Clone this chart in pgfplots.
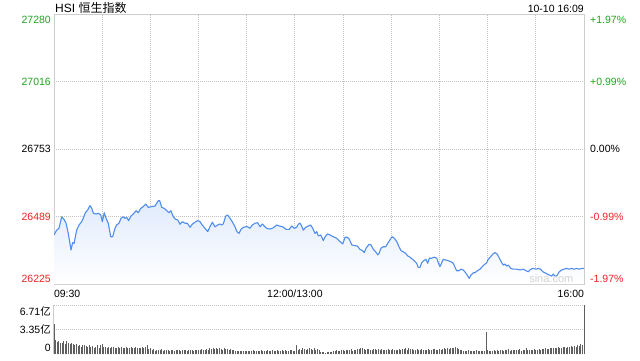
\documentclass[border=0pt]{standalone}
\usepackage{pgfplots}
\pgfplotsset{compat=1.18}
\usepackage{pgfplotstable}
\usepackage{fontspec}
\setmainfont{Liberation Sans}
\newfontfamily\cjk{Noto Sans CJK SC}
\definecolor{upg}{RGB}{30,165,30}
\definecolor{dnr}{RGB}{240,35,35}
\definecolor{linec}{RGB}{80,141,238}
\definecolor{framec}{RGB}{205,205,205}
\definecolor{gridc}{RGB}{195,195,195}
\definecolor{fillc}{RGB}{224,235,252}
\definecolor{volc}{RGB}{95,95,95}
\definecolor{wmc}{RGB}{212,212,212}

\pgfplotstableread{
m p
0 26417
1.7 26436
3.1 26443
4.8 26488
6.2 26478
7.5 26463
8.9 26423
10.6 26358
11.6 26387
12.5 26384
14.1 26436
15.6 26456
17.2 26469
18.2 26482
19.5 26504
21.0 26515
22.4 26532
23.5 26521
24.5 26502
26.2 26499
27.6 26502
29.1 26495
30.1 26469
31.3 26504
32.4 26482
33.8 26463
35.3 26410
36.5 26410
38.0 26443
39.0 26456
40.5 26463
41.7 26482
43.1 26488
44.2 26482
45.3 26486
46.5 26473
47.9 26491
49.4 26499
51.1 26512
52.5 26504
54.0 26521
55.6 26528
57.1 26538
58.7 26525
60.8 26528
62.9 26530
64.9 26551
65.8 26551
67.1 26525
68.7 26521
70.2 26512
71.6 26504
72.8 26512
74.3 26488
75.8 26478
77.0 26476
78.5 26459
79.9 26469
81.6 26463
83.0 26463
84.7 26447
86.1 26459
87.8 26467
89.5 26473
90.9 26469
92.3 26456
94.0 26443
95.7 26430
97.1 26449
98.6 26467
100.2 26449
101.9 26456
103.4 26460
104.4 26456
105.4 26460
106.9 26491
108.1 26495
109.6 26482
111.0 26469
112.7 26449
113.9 26430
115.2 26423
116.4 26439
117.9 26447
119.4 26449
120.6 26449
122.0 26443
123.5 26456
125.2 26463
126.8 26465
128.3 26449
129.7 26460
130.9 26452
132.4 26443
134.5 26440
136.5 26445
138.7 26456
140.3 26452
142.4 26449
144.5 26439
146.5 26439
148.0 26452
149.6 26443
151.1 26447
152.1 26459
153.2 26463
154.2 26452
155.2 26436
156.7 26447
158.3 26452
159.8 26456
161.1 26443
162.5 26423
163.6 26430
164.6 26413
166.1 26417
167.7 26395
168.7 26408
170.2 26421
171.8 26417
173.9 26410
176.0 26404
178.1 26391
179.8 26382
181.2 26408
182.6 26408
183.9 26400
185.4 26378
187.4 26375
188.8 26374
190.5 26361
192.2 26355
193.2 26348
194.3 26365
196.1 26380
197.4 26378
198.8 26361
200.3 26351
201.6 26339
202.4 26345
203.6 26365
205.0 26371
206.5 26371
208.1 26387
209.8 26404
210.6 26410
211.9 26404
213.4 26391
214.8 26371
216.1 26355
217.5 26351
219.0 26345
220.2 26335
221.7 26330
223.1 26322
224.3 26316
225.8 26306
226.8 26290
227.9 26290
228.9 26308
230.2 26316
231.6 26322
232.7 26306
233.7 26326
235.2 26326
236.8 26330
238.3 26326
239.3 26308
240.3 26293
241.4 26308
242.4 26322
243.9 26319
245.5 26316
247.2 26312
248.6 26306
249.7 26290
250.7 26277
252.2 26277
253.4 26283
254.8 26280
256.3 26269
257.6 26256
258.6 26247
259.6 26260
261.1 26269
262.1 26269
263.6 26277
265.2 26283
266.9 26295
268.4 26303
269.4 26308
270.4 26322
271.9 26332
273.2 26342
274.6 26348
276.0 26342
277.3 26326
278.8 26308
279.8 26299
280.8 26303
281.9 26295
282.9 26299
284.4 26286
286.0 26283
288.1 26283
290.1 26280
292.2 26283
293.9 26277
295.3 26273
296.8 26283
298.4 26286
300.1 26283
301.5 26286
303.0 26283
304.3 26273
305.7 26269
307.1 26264
308.4 26260
309.9 26256
310.9 26264
312.1 26254
313.4 26260
314.6 26273
316.1 26280
317.5 26283
319.2 26286
320.9 26283
322.3 26286
323.8 26283
325.4 26286
327.1 26283
328.6 26286
330.0 26286
}\price

\pgfplotsset{
  every tick label/.append style={font=\fontsize{10.5}{12}\selectfont, inner sep=0pt},
  /pgf/number format/assume math mode=true,
  scaled ticks=false,
}

\begin{document}
\begin{tikzpicture}
\useasboundingbox (0pt,0pt) rectangle (640pt,-360pt);
% price panel
\begin{axis}[
  at={(54pt,-284pt)}, anchor=south west, scale only axis,
  width=530pt, height=269.5pt,
  xmin=0, xmax=330, ymin=26225, ymax=27280,
  scaled y ticks=false, scaled x ticks=false,
  xtick={0,30,...,330},
  xticklabel pos=lower,
  xticklabels={{\raisebox{-12.7pt}[0pt][0pt]{\makebox[0pt][l]{09:30}}},,,,,{\raisebox{-12.7pt}[0pt][0pt]{\makebox[0pt][c]{12:00/13:00}}},,,,,,{\raisebox{-12.7pt}[0pt][0pt]{\makebox[0pt][r]{16:00}}}},
  ytick={26225,26489,26753,27016,27280},
  yticklabels={{\raisebox{2.0pt}[0pt][0pt]{\color{dnr}26225}},{\raisebox{-3.8pt}[0pt][0pt]{\color{dnr}26489}},{\raisebox{-3.8pt}[0pt][0pt]{26753}},{\raisebox{-3.8pt}[0pt][0pt]{\color{upg}27016}},{\raisebox{-9.3pt}[0pt][0pt]{\color{upg}27280}}},
  yticklabel style={xshift=-3pt},
  xmajorgrids, ymajorgrids,
  grid style={gridc, line width=0.9pt, dash pattern=on 1pt off 1pt},
  axis line style={framec, line width=1pt},
  major tick length=0pt,
]
\addplot[draw=none, top color=fillc, bottom color=white] table[x=m, y=p] {\price} -- (axis cs:330,26225) -- (axis cs:0,26225) -- cycle;
\addplot[linec, line width=1.1pt, line join=round] table[x=m, y=p] {\price};
\end{axis}
% percent labels on the right
\begin{axis}[
  at={(54pt,-284pt)}, anchor=south west, scale only axis,
  width=530pt, height=269.5pt,
  xmin=0, xmax=330, ymin=26225, ymax=27280,
  scaled y ticks=false, scaled x ticks=false,
  xtick=\empty,
  hide x axis, axis y line*=right, y axis line style={draw=none},
  ytick={26225,26489,26753,27016,27280},
  yticklabels={{\raisebox{2.0pt}[0pt][0pt]{\color{dnr}-1.97\%}},{\raisebox{-3.8pt}[0pt][0pt]{\color{dnr}-0.99\%}},{\raisebox{-3.8pt}[0pt][0pt]{0.00\%}},{\raisebox{-3.8pt}[0pt][0pt]{\color{upg}+0.99\%}},{\raisebox{-9.3pt}[0pt][0pt]{\color{upg}+1.97\%}}},
  yticklabel style={xshift=6pt},
  major tick length=0pt,
]
\end{axis}
% volume panel
\begin{axis}[
  at={(54pt,-354.3pt)}, anchor=south west, scale only axis,
  width=530pt, height=49.3pt,
  xmin=0, xmax=330, ymin=0, ymax=6.71,
  scaled y ticks=false, scaled x ticks=false,
  xtick=\empty,
  axis x line=none, axis y line*=left,
  y axis line style={framec, line width=1pt},
  ytick={3.35,6.71},
  yticklabels={{\raisebox{-3.6pt}[0pt][0pt]{3.35{\cjk 亿}}},{\raisebox{-10pt}[0pt][0pt]{6.71{\cjk 亿}}}},
  extra y ticks={0},
  extra y tick labels={{\raisebox{2.5pt}[0pt][0pt]{0}}},
  extra y tick style={grid=none},
  yticklabel style={xshift=-3pt},
  ymajorgrids,
  grid style={gridc, line width=0.9pt, dash pattern=on 1pt off 1pt},
  major tick length=0pt,
  clip=false,
]
\addplot[ycomb, volc, line width=0.9pt] coordinates {
(0,4.10)
(1,1.95)(2,1.70)(3,1.80)(4,1.60)(5,1.55)(6,1.75)(7,1.40)(8,1.85)(9,1.60)(10,1.35)
(11,1.50)(12,1.45)(13,1.20)(14,1.40)(15,1.10)(16,1.30)(17,1.05)(18,1.25)(19,1.30)(20,1.10)
(21,0.95)(22,1.20)(23,1.00)(24,1.10)(25,0.90)(26,1.05)(27,1.20)(28,0.85)(29,1.30)(30,1.40)
(31,1.00)(32,0.95)(33,0.90)(34,1.05)(35,0.85)(36,0.95)(37,1.00)(38,0.90)(39,0.80)(40,1.00)
(41,0.90)(42,0.95)(43,0.85)(44,0.90)(45,1.00)(46,0.85)(47,0.80)(48,0.95)(49,0.90)(50,0.85)
(51,0.95)(52,0.85)(53,0.90)(54,0.80)(55,0.95)(56,0.85)(57,1.00)(58,1.25)(59,0.75)(60,0.80)
(61,0.55)(62,0.70)(63,0.50)(64,0.65)(65,0.55)(66,0.60)(67,0.70)(68,0.50)(69,0.55)(70,0.65)
(71,0.60)(72,0.45)(73,0.55)(74,0.60)(75,0.50)(76,0.65)(77,0.55)(78,0.60)(79,0.50)(80,0.55)
(81,0.60)(82,0.55)(83,0.50)(84,0.65)(85,0.55)(86,0.60)(87,0.50)(88,0.55)(89,0.60)(90,0.65)
(91,0.55)(92,0.70)(93,0.60)(94,0.55)(95,0.75)(96,0.65)(97,0.80)(98,0.70)(99,0.85)(100,0.75)
(101,0.80)(102,0.70)(103,0.85)(104,0.75)(105,0.65)(106,0.80)(107,0.70)(108,0.75)(109,0.60)(110,0.70)
(111,0.65)(112,0.55)(113,0.45)(114,0.50)(115,0.40)(116,0.45)(117,0.50)(118,0.40)(119,0.45)(120,0.50)
(121,0.40)(122,0.45)(123,0.50)(124,0.55)(125,0.45)(126,0.40)(127,0.50)(128,0.45)(129,0.55)(130,0.50)
(131,0.45)(132,0.40)(133,0.55)(134,0.50)(135,0.45)(136,0.60)(137,0.50)(138,0.45)(139,0.55)(140,0.50)
(141,0.45)(142,0.60)(143,0.50)(144,0.55)(145,0.45)(146,0.50)(147,0.55)(148,0.60)(149,0.50)(150,0.45)
(151,1.27)
(152,0.60)(153,0.75)(154,0.65)(155,0.80)(156,0.70)(157,0.60)(158,0.75)(159,0.85)(160,0.70)
(161,0.65)(162,0.80)(163,0.60)(164,0.70)(165,0.55)(166,0.30)(167,0.25)(168,0.35)(169,0.20)(170,0.30)
(171,0.25)(172,0.35)(173,0.30)(174,0.40)(175,0.45)(176,0.55)(177,0.40)(178,0.50)(179,0.60)(180,0.55)
(181,0.50)(182,0.65)(183,0.55)(184,0.60)(185,0.70)(186,0.50)(187,0.65)(188,0.60)(189,0.75)(190,0.70)
(191,0.80)(192,0.90)(193,0.70)(194,0.65)(195,0.75)(196,0.70)(197,0.60)(198,0.65)(199,0.75)(200,0.70)
(201,0.65)(202,0.70)(203,0.60)(204,0.75)(205,0.65)(206,0.55)(207,0.60)(208,0.70)(209,0.65)(210,0.60)
(211,0.70)(212,0.65)(213,0.60)(214,0.55)(215,0.70)(216,0.65)(217,0.75)(218,0.70)(219,0.80)(220,0.65)
(221,0.90)(222,0.70)(223,0.75)(224,0.65)(225,0.60)(226,0.70)(227,0.65)(228,0.60)(229,0.70)(230,0.55)
(231,0.60)(232,0.65)(233,0.70)(234,0.60)(235,0.55)(236,0.70)(237,0.75)(238,0.60)(239,0.65)(240,0.70)
(241,0.60)(242,0.75)(243,0.80)(244,0.70)(245,0.85)(246,0.75)(247,0.80)(248,0.90)(249,0.85)(250,0.95)
(251,0.80)(252,0.70)(253,0.60)(254,0.55)(255,0.50)(256,0.45)(257,0.50)(258,0.55)(259,0.45)(260,0.50)
(261,0.45)(262,0.50)(263,0.55)(264,0.45)(265,0.50)(266,0.40)(267,0.45)(268,0.50)
(269,3.08)
(270,0.55)
(271,0.40)(272,0.50)(273,0.45)(274,0.55)(275,0.50)(276,0.60)(277,0.45)(278,0.55)(279,0.65)(280,0.50)
(281,0.60)(282,0.55)(283,0.70)(284,0.50)(285,0.60)(286,0.55)(287,0.65)(288,0.60)(289,0.55)(290,0.70)
(291,0.50)(292,0.60)(293,0.55)(294,0.85)(295,0.60)(296,0.55)(297,0.65)(298,0.60)(299,0.70)(300,0.65)
(301,0.60)(302,0.70)(303,0.65)(304,0.75)(305,0.70)(306,0.80)(307,0.75)(308,0.70)(309,0.85)(310,0.80)
(311,0.90)(312,0.85)(313,0.80)(314,0.95)(315,0.90)(316,0.85)(317,1.00)(318,0.95)(319,0.90)(320,1.05)
(321,1.00)(322,1.10)(323,0.95)(324,1.15)(325,1.05)(326,1.20)(327,1.10)(328,1.40)(329,1.25)
(330,6.71)
};
\end{axis}
% header texts
\node[anchor=base west, inner sep=0pt, font=\fontsize{12}{14}\selectfont] at (55pt,-12pt) {HSI {\cjk 恒生指数}};
\node[anchor=base east, inner sep=0pt, font=\fontsize{10.5}{12}\selectfont] at (584pt,-12pt) {10-10 16:09};
\node[anchor=base east, inner sep=0pt, font=\fontsize{11}{12}\selectfont, text=wmc] at (573.5pt,-282.5pt) {sina.com};
\end{tikzpicture}
\end{document}
